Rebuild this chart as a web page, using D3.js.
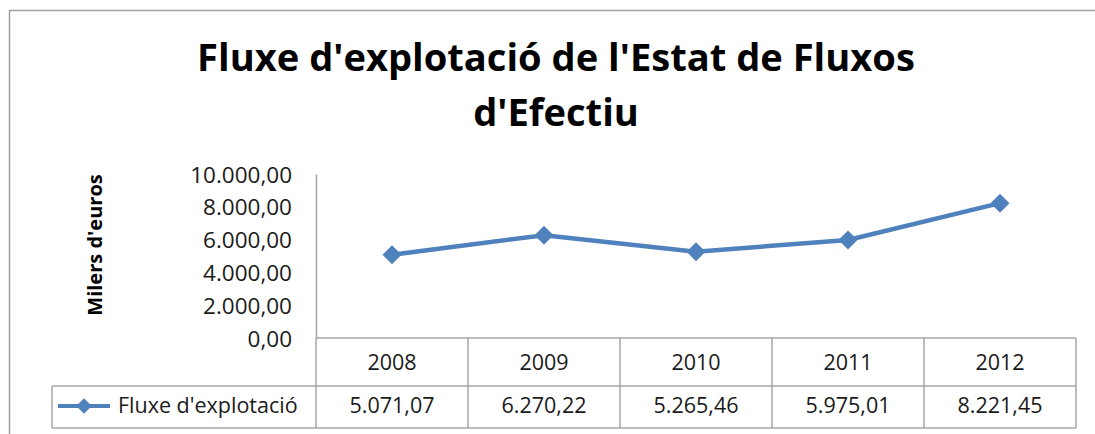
<!DOCTYPE html>
<html>
<head>
<meta charset="utf-8">
<script src="https://cdn.jsdelivr.net/npm/d3@7"></script>
<style>
  html, body { margin: 0; padding: 0; background: #fff; }
  svg { display: block; }
  text { font-family: "Open Sans", "Noto Sans", sans-serif; fill: #1a1a1a; }
</style>
</head>
<body>
<svg id="chart"></svg>
<script>
// dades
const years = ["2008", "2009", "2010", "2011", "2012"];
const values = [5071.07, 6270.22, 5265.46, 5975.01, 8221.45];
const yTicks = [0, 2000, 4000, 6000, 8000, 10000];
const seriesName = "Fluxe d'explotació";
const titleLines = ["Fluxe d'explotació de l'Estat de Fluxos", "d'Efectiu"];
const yTitle = "Milers d'euros";

const width = 1095, height = 434;
const blue = "#4f81bd";
const grid = "#a6a6a6";

const svg = d3.select("#chart").attr("width", width).attr("height", height);

// locale català (1.000,00)
const ca = d3.formatLocale({ decimal: ",", thousands: ".", grouping: [3], currency: ["", " €"] });
const fmt = ca.format(",.2f");

// marc del gràfic
svg.append("rect")
  .attr("x", 9.5).attr("y", 10.5)
  .attr("width", width).attr("height", height)
  .attr("fill", "none").attr("stroke", "#a0a0a0").attr("stroke-width", 1.5);

// títol
const title = svg.append("g").attr("class", "title");
title.selectAll("text")
  .data(titleLines)
  .join("text")
  .attr("x", 556)
  .attr("y", (d, i) => 71 + i * 55)
  .attr("text-anchor", "middle")
  .attr("font-size", 36)
  .attr("font-weight", "bold")
  .style("fill", "#000")
  .text(d => d);
// ajustar amplada a la referència
const t0 = title.select("text").node();
const w0 = t0.getComputedTextLength();
const fs = 36 * 718 / w0;
title.selectAll("text").attr("font-size", fs);

// escales
const left = 316, right = 1076;
const x = d3.scaleBand().domain(years).range([left, right]);
const y = d3.scaleLinear().domain([0, 10000]).range([338, 174]);

// eix Y
const yAxis = d3.axisLeft(y).tickValues(yTicks).tickFormat(fmt).tickSize(0).tickPadding(24);
const yAxisG = svg.append("g").attr("transform", `translate(${left},0)`).call(yAxis);
yAxisG.select(".domain").attr("stroke", grid).attr("stroke-width", 1.5);
yAxisG.selectAll("text")
  .attr("font-size", 22.5)
  .attr("font-family", "'Open Sans', sans-serif")
  .attr("dy", "0.36em")
  .style("fill", "#1a1a1a");

// títol eix Y
svg.append("text")
  .attr("transform", `translate(102,245) rotate(-90)`)
  .attr("text-anchor", "middle")
  .attr("font-size", 20)
  .attr("font-weight", "bold")
  .style("fill", "#000")
  .text(yTitle);

// taula de dades
const rowTop = 338, rowMid = 386, rowBot = 428, legendLeft = 52;
const table = svg.append("g").attr("class", "table")
  .attr("stroke", grid).attr("stroke-width", 1.5).attr("fill", "none");

table.append("line").attr("x1", left).attr("x2", right).attr("y1", rowTop).attr("y2", rowTop);
table.append("line").attr("x1", legendLeft).attr("x2", right).attr("y1", rowMid).attr("y2", rowMid);
table.append("line").attr("x1", legendLeft).attr("x2", right).attr("y1", rowBot).attr("y2", rowBot);
table.append("line").attr("x1", legendLeft).attr("x2", legendLeft).attr("y1", rowMid).attr("y2", rowBot);
table.append("line").attr("x1", left).attr("x2", left).attr("y1", rowTop).attr("y2", rowBot);
table.selectAll("line.col")
  .data(years)
  .join("line")
  .attr("class", "col")
  .attr("x1", d => x(d) + x.bandwidth())
  .attr("x2", d => x(d) + x.bandwidth())
  .attr("y1", rowTop).attr("y2", rowBot);

// anys
svg.append("g").selectAll("text")
  .data(years)
  .join("text")
  .attr("x", d => x(d) + x.bandwidth() / 2)
  .attr("y", 370)
  .attr("text-anchor", "middle")
  .attr("font-size", 21.5)
  .text(d => d);

// valors
svg.append("g").selectAll("text")
  .data(values)
  .join("text")
  .attr("x", (d, i) => x(years[i]) + x.bandwidth() / 2)
  .attr("y", 413)
  .attr("text-anchor", "middle")
  .attr("font-size", 21.5)
  .text(d => fmt(d));

// llegenda dins la taula
const diamond = d3.symbol().type(d3.symbolDiamond2).size(150);
const leg = svg.append("g").attr("transform", "translate(0,406)");
leg.append("line").attr("x1", 58).attr("x2", 110).attr("stroke", blue).attr("stroke-width", 4);
leg.append("path").attr("d", diamond()).attr("transform", "translate(84,0)").attr("fill", blue);
leg.append("text")
  .attr("x", 118).attr("y", 7)
  .attr("font-size", 21.5)
  .text(seriesName);

// sèrie
const pts = years.map((d, i) => ({ year: d, value: values[i] }));
const line = d3.line().x(d => x(d.year) + x.bandwidth() / 2).y(d => y(d.value));
svg.append("path")
  .datum(pts)
  .attr("d", line)
  .attr("fill", "none")
  .attr("stroke", blue)
  .attr("stroke-width", 4.5)
  .attr("stroke-linejoin", "round");

svg.append("g").selectAll("path")
  .data(pts)
  .join("path")
  .attr("d", d3.symbol().type(d3.symbolDiamond2).size(230)())
  .attr("transform", d => `translate(${x(d.year) + x.bandwidth() / 2},${y(d.value)})`)
  .attr("fill", blue);
</script>
</body>
</html>
